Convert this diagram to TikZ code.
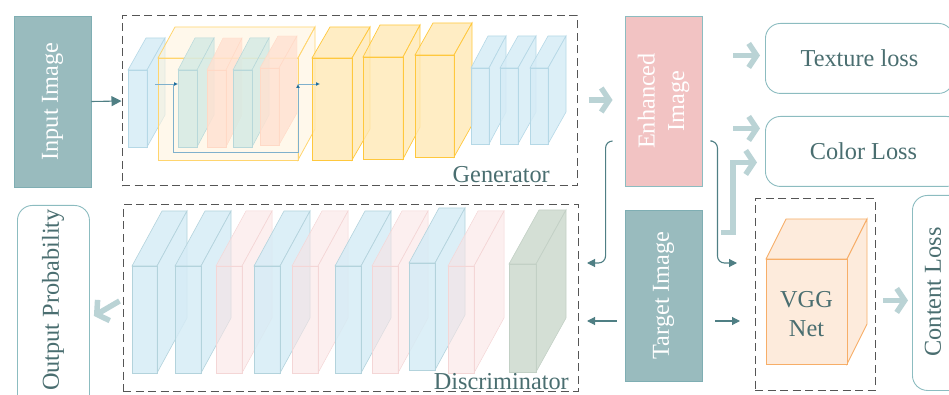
\documentclass[tikz,border=0pt]{standalone}
\usepackage{fontspec}
\setmainfont{Liberation Serif}
\usepackage{graphicx}
\usetikzlibrary{arrows.meta,calc}

\definecolor{tealfill}{HTML}{99BBBE}
\definecolor{tealedge}{HTML}{7FAEB3}
\definecolor{pinkfill}{HTML}{F2C3C3}
\definecolor{roundedge}{HTML}{8CBCC0}
\definecolor{labeltxt}{HTML}{4A6E70}
\definecolor{fatc}{HTML}{BAD3D5}
\definecolor{connc}{HTML}{4F7F84}
\definecolor{dashc}{HTML}{555555}
\definecolor{skipline}{HTML}{7FB0CC}
\definecolor{skiptip}{HTML}{1F6E9E}
\definecolor{lblue}{HTML}{D6ECF6}
\definecolor{lbluee}{HTML}{B5D8E6}
\definecolor{lgreen}{HTML}{D6EBE4}
\definecolor{lgreene}{HTML}{B8D8DA}
\definecolor{salmon}{HTML}{FFE2D2}
\definecolor{salmone}{HTML}{FFD9C6}
\definecolor{yel}{HTML}{FFE9B5}
\definecolor{yele}{HTML}{FFC83D}
\definecolor{bigyel}{HTML}{FFF4DE}
\definecolor{bigyele}{HTML}{FFD56E}
\definecolor{dpink}{HTML}{FAE4E4}
\definecolor{dpinke}{HTML}{F4D6D6}
\definecolor{dblue}{HTML}{D6ECF6}
\definecolor{dbluee}{HTML}{B3D3DC}
\definecolor{dgreen}{HTML}{D2DDD3}
\definecolor{dgreene}{HTML}{C2D0C5}
\definecolor{vggf}{HTML}{FDEBDC}
\definecolor{vgge}{HTML}{F7AE68}

% layer slab: x, y (front top-left), width, height, depth dx, depth rise, style
\newcommand\slab[7]{%
  \path[#7] (#1,#2) -- ++(#5,-#6) -- ++(#3,0) -- ++(-#5,#6) -- cycle;
  \path[#7] (#1+#3,#2) -- ++(#5,-#6) -- ++(0,#4) -- ++(-#5,#6) -- cycle;
  \path[#7] (#1,#2) rectangle ++(#3,#4);
}

\tikzset{
  every node/.style={font=\fontsize{24.3}{29.5}\selectfont},
  solidbox/.style={draw=tealedge, line width=0.9pt, fill=tealfill, text=white, inner sep=0pt},
  lossbox/.style={draw=roundedge, line width=0.9pt, rounded corners=15pt, inner sep=0pt},
  frame/.style={draw=dashc, line width=1pt, dash pattern=on 8pt off 4.5pt, inner sep=0pt},
  conn/.style={draw=connc, line width=1.1pt, -{Triangle[length=8pt,width=8pt]}},
  fat/.style={draw=fatc, line width=5.5pt, -{Straight Barb[length=8pt,width=24pt,line width=5.5pt]}},
  skip/.style={draw=skipline, line width=0.9pt},
  skiparrow/.style={skip, -{Latex[length=4pt,width=4pt,color=skiptip]}},
  lbl/.style={text=labeltxt, inner sep=0pt},
  gblue/.style={fill=lblue, draw=lbluee, line width=0.6pt, fill opacity=0.85},
  ggreen/.style={fill=lgreen, draw=lgreene, line width=0.5pt, fill opacity=0.85},
  gsalmon/.style={fill=salmon, draw=salmone, line width=0.4pt, fill opacity=0.85},
  gyel/.style={fill=yel, draw=yele, line width=0.7pt, fill opacity=0.8},
  gbig/.style={fill=bigyel, draw=bigyele, line width=0.8pt, fill opacity=0.6},
  dblu/.style={fill=dblue, draw=dbluee, line width=0.6pt, fill opacity=0.85},
  dpnk/.style={fill=dpink, draw=dpinke, line width=0.5pt, fill opacity=0.6},
  dgrn/.style={fill=dgreen, draw=dgreene, line width=0.6pt, fill opacity=0.95},
  vggcube/.style={fill=vggf, draw=vgge, line width=0.9pt},
}

\begin{document}
\begin{tikzpicture}[x=1pt, y=-1pt]
\useasboundingbox (0,0) rectangle (949,395);
\clip (0,0) rectangle (949,395);

% dashed frames
\node[frame, minimum width=455pt, minimum height=170pt] (gen) at (349.5,101) {};
\node[frame, minimum width=455pt, minimum height=186pt] (disc) at (350.5,298) {};
\node[frame, minimum width=120pt, minimum height=191pt] (vggbox) at (815,294.5) {};

% generator layers
\slab{128}{70}{19}{77}{18}{32}{gblue}
\slab{158}{58}{140}{102}{17}{31}{gbig}
\slab{178}{70}{19}{77}{17}{32}{ggreen}
\slab{207}{70}{19}{77}{16}{32}{gsalmon}
\slab{233}{70}{19}{77}{17}{32}{ggreen}
\slab{260}{68}{19}{77}{18}{32}{gsalmon}
\slab{312}{58}{40}{102}{18}{31}{gyel}
\slab{363}{57}{40}{102}{17}{32}{gyel}
\slab{415}{55}{39}{102}{18}{32}{gyel}
\slab{471}{68}{18}{76}{17}{32}{gblue}
\slab{500}{68}{18}{76}{18}{32}{gblue}
\slab{530}{68}{18}{76}{18}{32}{gblue}

% residual block wiring
\coordinate (r0) at (155,84);
\coordinate (r1) at (178,84);
\coordinate (r2) at (173,84);
\coordinate (r3) at (298,152);
\coordinate (r4) at (298,84);
\coordinate (r5) at (320,84);
\draw[skiparrow] (r0) -- (r1);
\draw[skiparrow] (r2) |- (r3) -- (r4);
\draw[skiparrow] (r4) -- (r5);

% discriminator layers
\slab{132}{266}{25}{107}{30}{55}{dblu}
\slab{175}{266}{26}{107}{30}{55}{dblu}
\slab{216}{266}{26}{107}{30}{55}{dpnk}
\slab{254}{266}{26}{107}{30}{55}{dblu}
\slab{292}{266}{26}{107}{30}{55}{dpnk}
\slab{335}{266}{26}{107}{30}{55}{dblu}
\slab{372}{266}{26}{107}{30}{55}{dpnk}
\slab{409}{263}{26}{107}{30}{55}{dblu}
\slab{448}{266}{26}{107}{30}{55}{dpnk}
\slab{509}{264}{27}{108}{30}{54}{dgrn}

% VGG block
\slab{766}{259}{81}{105}{20}{40}{vggcube}
\node[lbl, align=center] (vggt) at (806.5,314) {VGG\\Net};

% image boxes
\node[solidbox, minimum width=77pt, minimum height=171pt] (inp) at (52.5,101.5) {\rotatebox{90}{Input Image}};
\node[solidbox, fill=pinkfill, draw=roundedge, minimum width=77pt, minimum height=170pt] (enh) at (663.5,101)
  {\rotatebox{90}{\begin{tabular}{@{}c@{}}Enhanced\\Image\end{tabular}}};
\node[solidbox, minimum width=77pt, minimum height=171pt] (tgt) at (663.5,295.5) {\rotatebox{90}{Target Image}};

% loss and output boxes
\node[lossbox, text=labeltxt, minimum width=188pt, minimum height=70pt, anchor=north west] (tex) at (765,23) {Texture loss};
\node[lossbox, text=labeltxt, minimum width=196pt, minimum height=70pt, anchor=north west] (col) at (765,116) {Color Loss};
\node[lossbox, minimum width=60pt, minimum height=195pt, anchor=north west] (cl) at (912,195) {};
\node[lbl] (clt) at (933,292) {\rotatebox{90}{Content Loss}};
\node[lossbox, minimum width=72pt, minimum height=215pt, anchor=north west] (out) at (17,205) {};
\node[lbl] (outt) at (53,300) {\rotatebox{90}{Output Probability}};

% frame captions
\node[lbl, anchor=base east] (genl) at (550,183) {Generator};
\node[lbl, anchor=base east] (discl) at (569,389) {Discriminator};

% thin connectors
\draw[conn, -{Triangle[length=10pt,width=10pt]}] (inp.east) -- (gen.west);
\coordinate (dinA) at (587,263);
\coordinate (dinB) at (587,321);
\coordinate (vinA) at (737,263);
\coordinate (vinB) at (740,321);
\draw[conn, rounded corners=7pt] ([xshift=-12pt,yshift=-40pt]enh.west) -- ++(-7,0) |- (dinA);
\draw[conn, rounded corners=7pt] ([xshift=10pt,yshift=-40pt]enh.east) -- ++(5,0) |- (vinA);
\draw[conn] ($(tgt.west|-dinB)+(-8,0)$) -- (dinB);
\draw[conn] ($(tgt.east|-vinB)+(13,0)$) -- (vinB);

% thick arrows
\draw[fat] ($(gen.east)+(11,-1)$) -- ($(enh.west)+(-12,-1)$);
\draw[fat] ($(tex.west)+(-32,-3)$) -- ($(tex.west)+(-5,-3)$);
\draw[fat] ($(col.west)+(-32,-23)$) -- ($(col.west)+(-5,-23)$);
\draw[fat] ($(col.west)+(-44,81)$) -- ++(12,0) |- ($(col.west)+(-8,11)$);
\draw[fat] ($(cl.west)+(-29,7.5)$) -- ($(cl.west)+(-4,7.5)$);
\draw[fat] ($(disc.west)+(-3,3)$) -- ($(out.east)+(4,3)$);
\end{tikzpicture}
\end{document}
